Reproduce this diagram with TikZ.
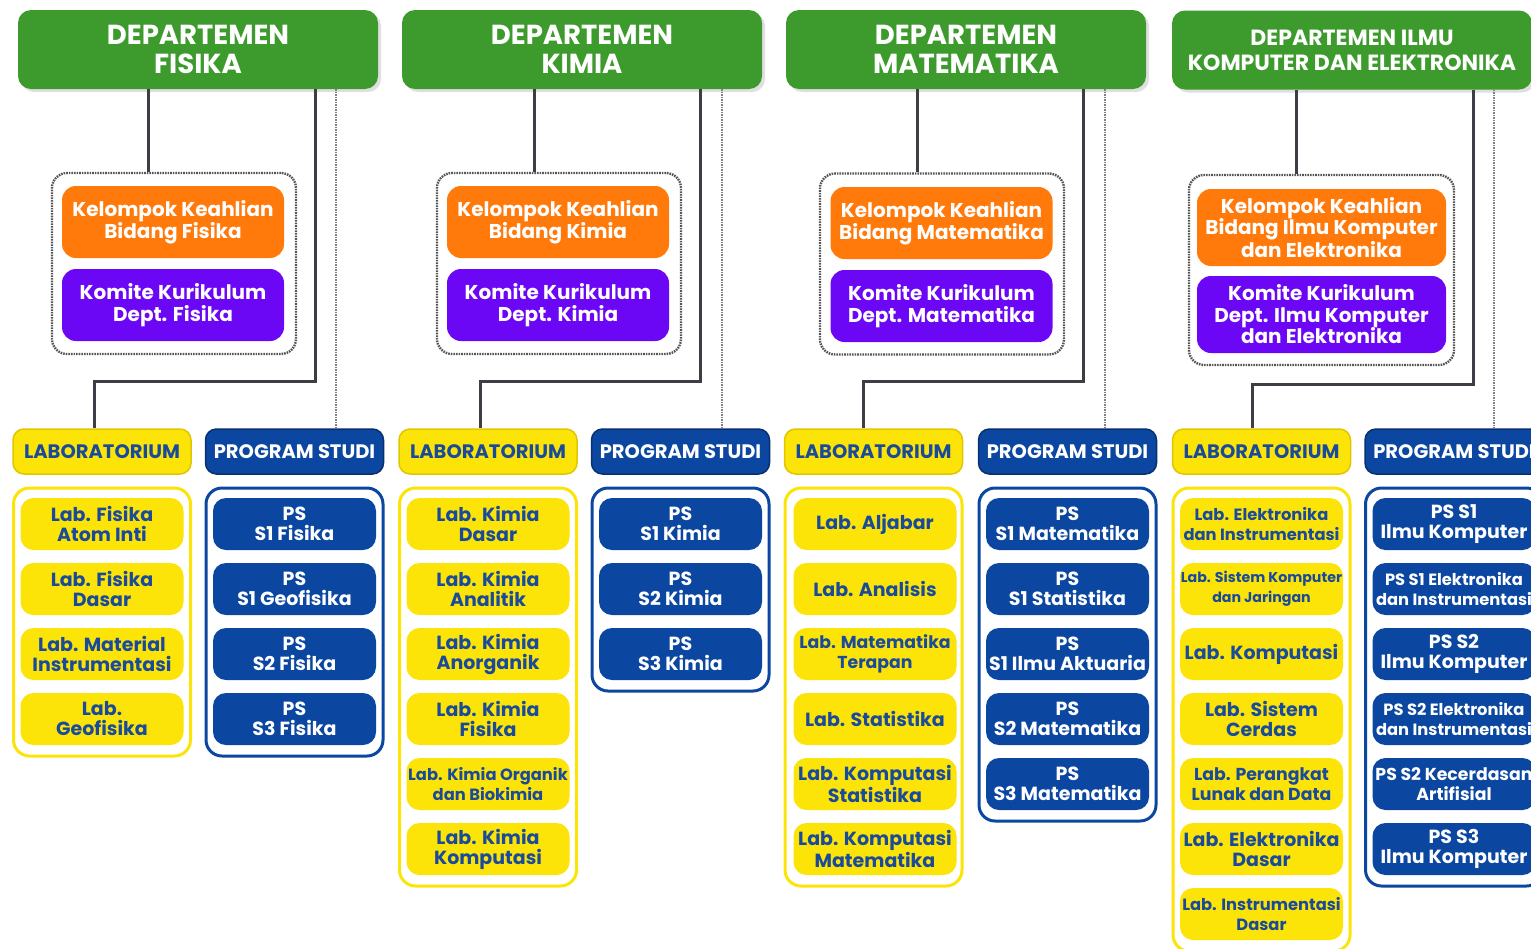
\documentclass[tikz,border=0pt]{standalone}
\usepackage{fontspec}
\setmainfont{Poppins}
\usetikzlibrary{shadows}

\definecolor{deptgreen}{RGB}{60,155,44}
\definecolor{kkorange}{RGB}{255,122,11}
\definecolor{kompurple}{RGB}{108,7,245}
\definecolor{labyellow}{RGB}{253,228,8}
\definecolor{labedge}{RGB}{222,198,0}
\definecolor{labtext}{RGB}{26,75,155}
\definecolor{psblue}{RGB}{11,71,160}
\definecolor{psedge}{RGB}{8,48,110}
\definecolor{linegrey}{RGB}{61,61,69}
\definecolor{dashgrey}{RGB}{85,85,85}

\newcommand{\deptfont}{\fontsize{27.5}{29}\selectfont\bfseries}
\newcommand{\deptsmall}{\fontsize{22}{25}\selectfont\bfseries}
\newcommand{\kkfont}{\fontsize{20}{21.5}\selectfont\bfseries}
\newcommand{\headfont}{\fontsize{19.5}{20}\selectfont\bfseries}
\newcommand{\itemfont}{\fontsize{19}{20}\selectfont\bfseries}
\newcommand{\miditem}{\fontsize{17.3}{19.5}\selectfont\bfseries}
\newcommand{\smallitem}{\fontsize{16.3}{19.5}\selectfont\bfseries}
\newcommand{\tinyitem}{\fontsize{14.2}{19.5}\selectfont\bfseries}

\tikzset{
  dept/.style={fill=deptgreen, rounded corners=13pt, minimum width=360pt, minimum height=79pt,
    text=white, font=\deptfont, align=center, inner sep=0pt,
    drop shadow={shadow xshift=3pt, shadow yshift=-3pt, opacity=.25}},
  grp/.style={draw=dashgrey, line width=2.4pt, dash pattern=on 1.6pt off 1pt,
    rounded corners=15pt, minimum width=244pt, minimum height=181pt, inner sep=0pt},
  kk/.style={fill=kkorange, rounded corners=14pt, minimum width=222pt, minimum height=72pt,
    text=white, font=\kkfont, align=center, inner sep=0pt},
  kom/.style={kk, fill=kompurple},
  labhead/.style={fill=labyellow, draw=labedge, line width=1.5pt, rounded corners=11pt,
    minimum width=178pt, minimum height=45pt, text=labtext, font=\headfont, inner sep=0pt},
  pshead/.style={labhead, fill=psblue, draw=psedge, text=white},
  labbox/.style={draw=labyellow, line width=3pt, fill=white, rounded corners=16pt,
    minimum width=177pt, inner sep=0pt},
  psbox/.style={labbox, draw=psblue},
  labitem/.style={fill=labyellow, rounded corners=13pt, minimum width=163pt, minimum height=52pt,
    text=labtext, font=\itemfont, align=center, inner sep=0pt},
  psitem/.style={labitem, fill=psblue, text=white},
  normtxt/.style={},
  midtxt/.style={font=\miditem},
  smalltxt/.style={font=\smallitem},
  tinytxt/.style={font=\tinyitem},
  trunk/.style={draw=linegrey, line width=3pt},
  side/.style={draw=gray, line width=1.4pt, dash pattern=on 1.5pt off 1pt}
}

\begin{document}
\begin{tikzpicture}[x=1pt,y=-1pt]
\clip (0,0) rectangle (1531,948);

%Departemen Fisika
\node[dept] (dept1) at (198,49.5) {DEPARTEMEN\\FISIKA};
\node[grp] (grp1) at (174,263.5) {};
\node[kk] (kk1) at (173,222) {Kelompok Keahlian\\Bidang Fisika};
\node[kom] (kom1) at (173,305) {Komite Kurikulum\\Dept. Fisika};
\node[labhead] (labh1) at (102,451.5) {LABORATORIUM};
\node[pshead] (psh1) at (294.5,451.5) {PROGRAM STUDI};
\node[labbox, minimum height=268pt] (labc1) at (102,622) {};
\node[psbox, minimum height=268pt] (psc1) at (294.5,622) {};
\foreach \t [count=\i] in {{Lab. Fisika\\Atom Inti},{Lab. Fisika\\Dasar},
    {Lab. Material\\Instrumentasi},{Lab.\\Geofisika}}
  \node[labitem] (lab1-\i) at (102,459+65*\i) {\t};
\foreach \t [count=\i] in {{PS\\S1 Fisika},{PS\\S1 Geofisika},{PS\\S2 Fisika},{PS\\S3 Fisika}}
  \node[psitem] (ps1-\i) at (294.5,459+65*\i) {\t};
%Lines
\draw[trunk] (148,0 |- dept1.south) -- (148,0 |- grp1.north);
\draw[trunk] (315,0 |- dept1.south) |- (94,381) -- (94,0 |- labh1.north);
\draw[side] (336,0 |- dept1.south) -- (336,0 |- psh1.north);

%Departemen Kimia
\begin{scope}[xshift=386pt]
\node[dept] (dept2) at (196,49.5) {DEPARTEMEN\\KIMIA};
\node[grp] (grp2) at (173,263.5) {};
\node[kk] (kk2) at (172,222) {Kelompok Keahlian\\Bidang Kimia};
\node[kom] (kom2) at (172,305) {Komite Kurikulum\\Dept. Kimia};
\node[labhead] (labh2) at (102,451.5) {LABORATORIUM};
\node[pshead] (psh2) at (294.5,451.5) {PROGRAM STUDI};
\node[labbox, minimum height=398pt] (labc2) at (102,687) {};
\node[psbox, minimum height=203pt] (psc2) at (294.5,589.5) {};
\foreach \s/\t [count=\i] in {normtxt/{Lab. Kimia\\Dasar},normtxt/{Lab. Kimia\\Analitik},
    normtxt/{Lab. Kimia\\Anorganik},normtxt/{Lab. Kimia\\Fisika},
    smalltxt/{Lab. Kimia Organik\\dan Biokimia},normtxt/{Lab. Kimia\\Komputasi}}
  \node[labitem,\s] (lab2-\i) at (102,459+65*\i) {\t};
\foreach \t [count=\i] in {{PS\\S1 Kimia},{PS\\S2 Kimia},{PS\\S3 Kimia}}
  \node[psitem] (ps2-\i) at (294.5,459+65*\i) {\t};
%Lines
\draw[trunk] (148,0 |- dept2.south) -- (148,0 |- grp2.north);
\draw[trunk] (314,0 |- dept2.south) |- (94,381) -- (94,0 |- labh2.north);
\draw[side] (336,0 |- dept2.south) -- (336,0 |- psh2.north);
\end{scope}

%Departemen Matematika
\begin{scope}[xshift=771pt]
\node[dept] (dept3) at (195,49.5) {DEPARTEMEN\\MATEMATIKA};
\node[grp] (grp3) at (171,264) {};
\node[kk] (kk3) at (170.5,223) {Kelompok Keahlian\\Bidang Matematika};
\node[kom] (kom3) at (170.5,306) {Komite Kurikulum\\Dept. Matematika};
\node[labhead] (labh3) at (102.5,451.5) {LABORATORIUM};
\node[pshead] (psh3) at (296.5,451.5) {PROGRAM STUDI};
\node[labbox, minimum height=398pt] (labc3) at (102.5,687) {};
\node[psbox, minimum height=333pt] (psc3) at (296.5,654.5) {};
\foreach \s/\t [count=\i] in {normtxt/{Lab. Aljabar},normtxt/{Lab. Analisis},
    midtxt/{Lab. Matematika\\Terapan},normtxt/{Lab. Statistika},
    normtxt/{Lab. Komputasi\\Statistika},normtxt/{Lab. Komputasi\\Matematika}}
  \node[labitem,\s] (lab3-\i) at (104,459+65*\i) {\t};
\foreach \t [count=\i] in {{PS\\S1 Matematika},{PS\\S1 Statistika},{PS\\S1 Ilmu Aktuaria},
    {PS\\S2 Matematika},{PS\\S3 Matematika}}
  \node[psitem] (ps3-\i) at (296.5,459+65*\i) {\t};
%Lines
\draw[trunk] (146,0 |- dept3.south) -- (146,0 |- grp3.north);
\draw[trunk] (312,0 |- dept3.south) |- (92,381) -- (92,0 |- labh3.north);
\draw[side] (334,0 |- dept3.south) -- (334,0 |- psh3.north);
\end{scope}

%Departemen Ilmu Komputer dan Elektronika
\begin{scope}[xshift=1159pt]
\node[dept, font=\deptsmall] (dept4) at (193,50) {DEPARTEMEN ILMU\\KOMPUTER DAN ELEKTRONIKA};
\node[grp, minimum width=265pt, minimum height=190pt] (grp4) at (162.5,270) {};
\node[kk, minimum width=249pt, minimum height=77pt] (kk4) at (162.5,227.5)
  {Kelompok Keahlian\\Bidang Ilmu Komputer\\dan Elektronika};
\node[kom, minimum width=249pt, minimum height=77pt] (kom4) at (162.5,314.5)
  {Komite Kurikulum\\Dept. Ilmu Komputer\\dan Elektronika};
\node[labhead] (labh4) at (102.5,451.5) {LABORATORIUM};
\node[pshead] (psh4) at (295,451.5) {PROGRAM STUDI};
\node[labbox, minimum height=463pt] (labc4) at (102.5,719.5) {};
\node[psbox, minimum height=398pt] (psc4) at (295,687) {};
\foreach \s/\t [count=\i] in {smalltxt/{Lab. Elektronika\\dan Instrumentasi},
    tinytxt/{Lab. Sistem Komputer\\dan Jaringan},normtxt/{Lab. Komputasi},
    normtxt/{Lab. Sistem\\Cerdas},midtxt/{Lab. Perangkat\\Lunak dan Data},
    normtxt/{Lab. Elektronika\\Dasar},smalltxt/{Lab. Instrumentasi\\Dasar}}
  \node[labitem,\s] (lab4-\i) at (102.5,459+65*\i) {\t};
\foreach \s/\t [count=\i] in {normtxt/{PS S1\\Ilmu Komputer},
    smalltxt/{PS S1 Elektronika\\dan Instrumentasi},normtxt/{PS S2\\Ilmu Komputer},
    smalltxt/{PS S2 Elektronika\\dan Instrumentasi},midtxt/{PS S2 Kecerdasan\\Artifisial},
    normtxt/{PS S3\\Ilmu Komputer}}
  \node[psitem,\s] (ps4-\i) at (295,459+65*\i) {\t};
%Lines
\draw[trunk] (137,0 |- dept4.south) -- (137,0 |- grp4.north);
\draw[trunk] (314,0 |- dept4.south) |- (93,384) -- (93,0 |- labh4.north);
\draw[side] (335,0 |- dept4.south) -- (335,0 |- psh4.north);
\end{scope}

\end{tikzpicture}
\end{document}
